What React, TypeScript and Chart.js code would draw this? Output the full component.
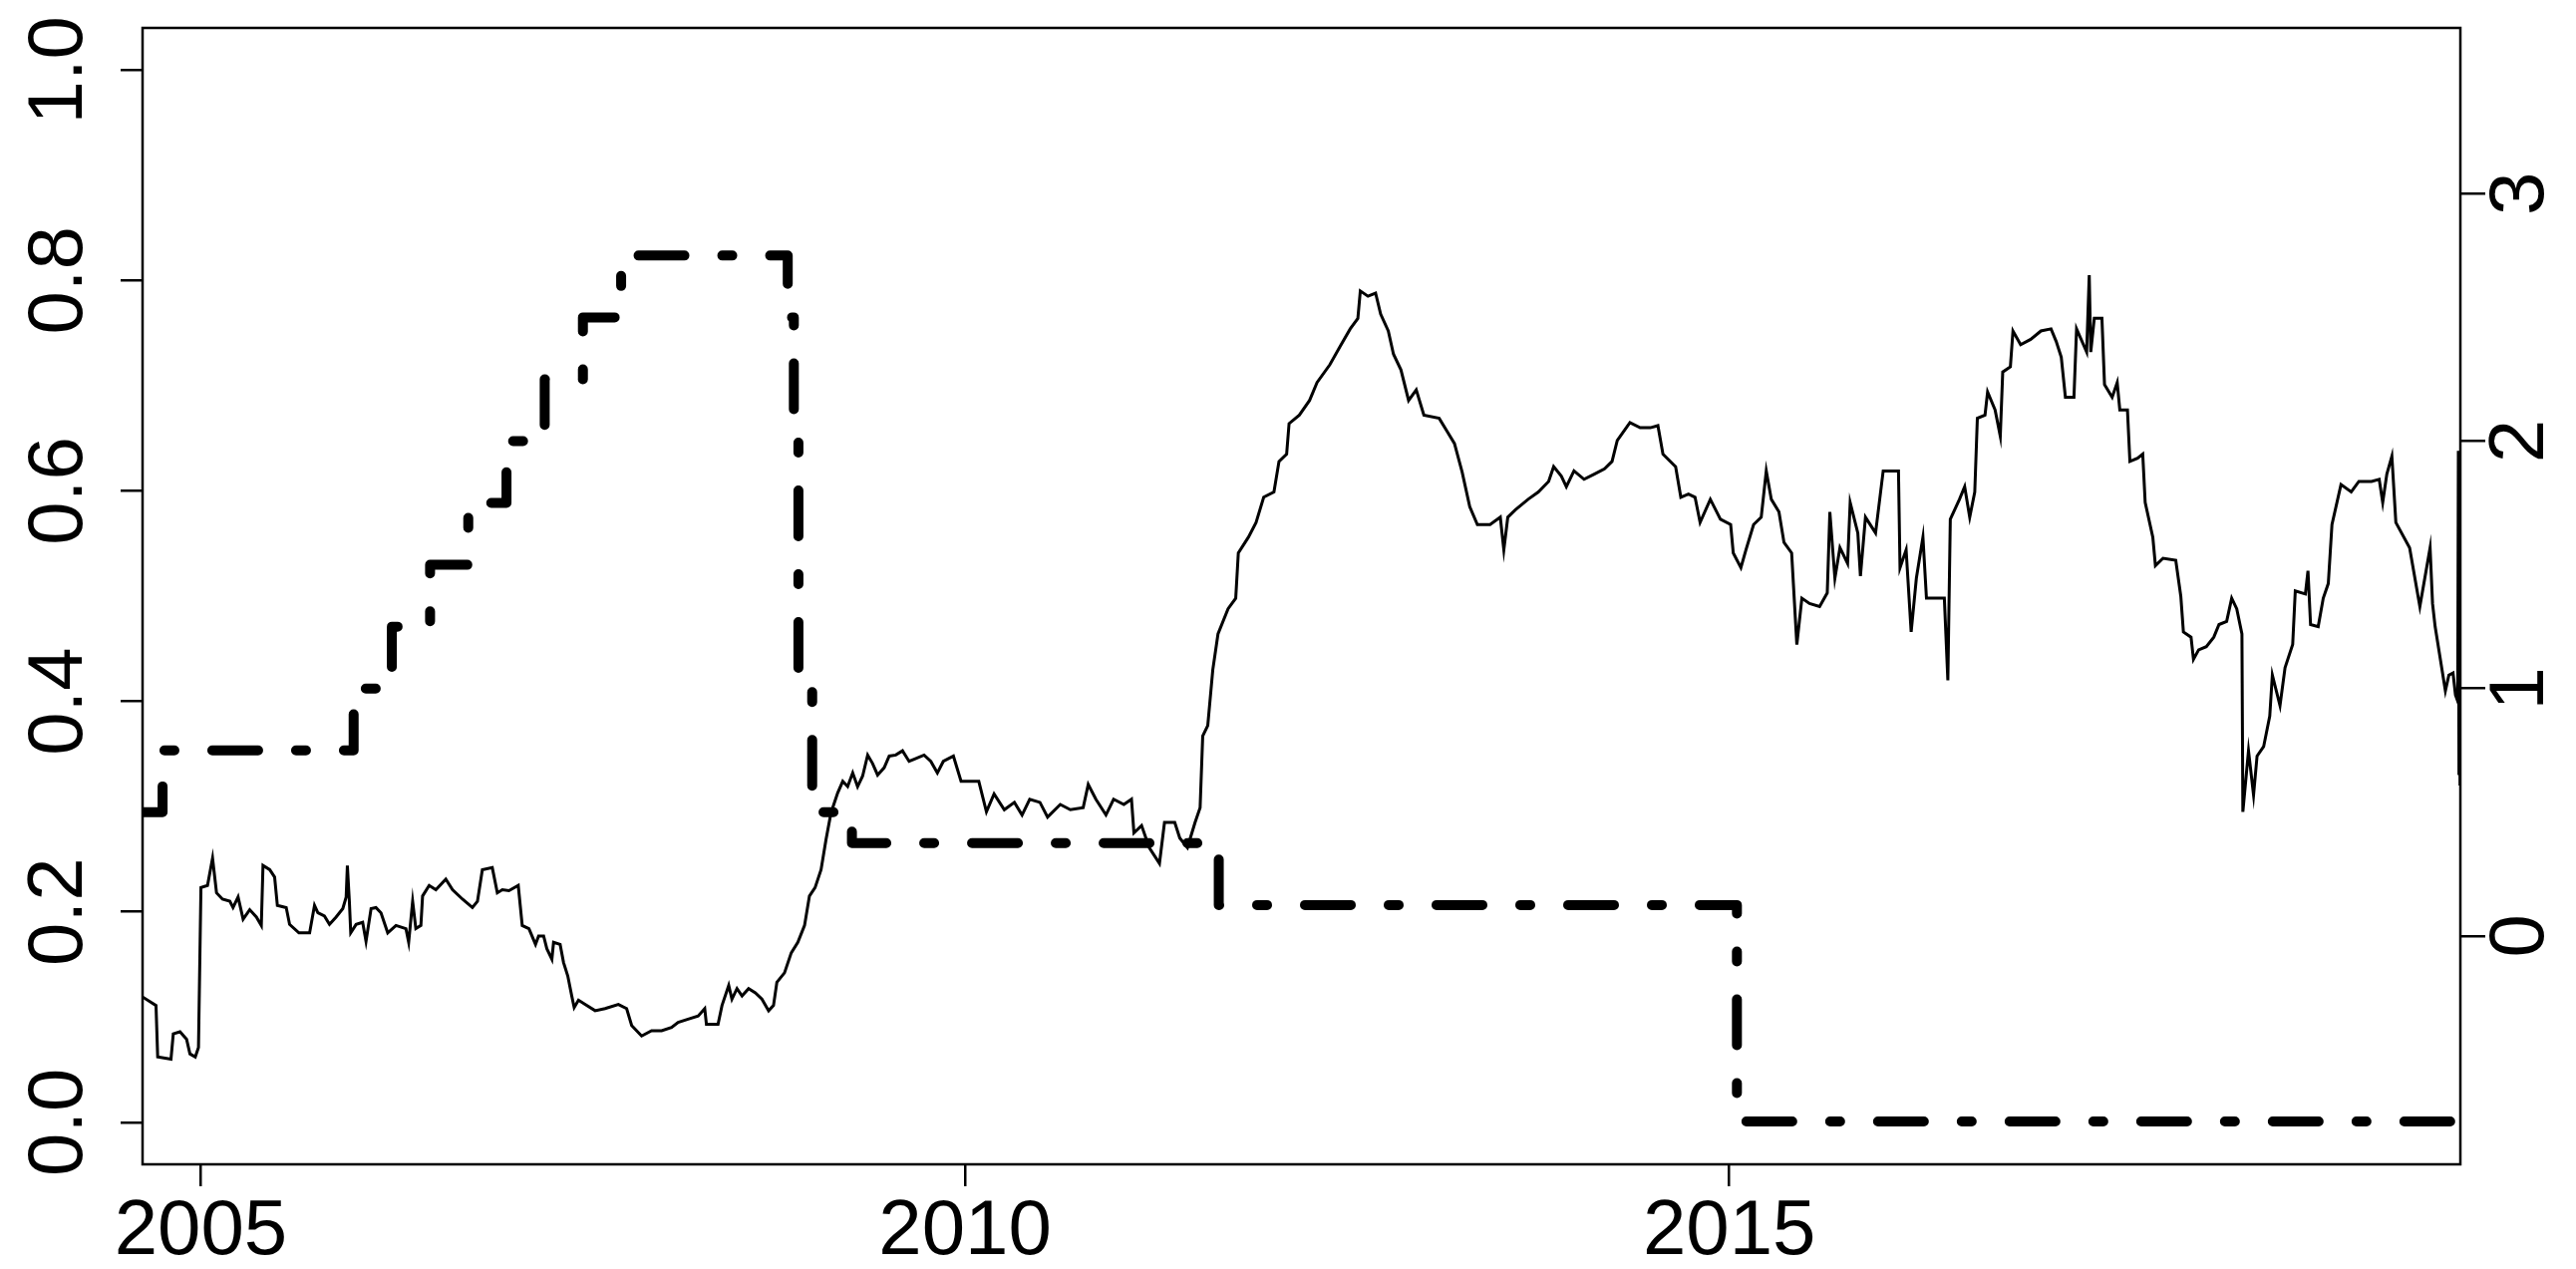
import React, { useEffect, useRef } from 'react';
import { Chart, registerables } from 'chart.js';

Chart.register(...registerables);

// ---------- data ----------
const xRange = [2004.619, 2019.783];
const leftRange = [-0.04, 1.04];
const rightRange = [-0.923, 3.67];

const xTicks = [2005, 2010, 2015];
const leftTicks = [0, 0.2, 0.4, 0.6, 0.8, 1.0];
const rightTicks = [0, 1, 2, 3];

// solid series (left axis): [year, value]
const solidSeries: [number, number][] = [
  [2004.620, 0.119], [2004.707, 0.111], [2004.718, 0.062], [2004.805, 0.060], [2004.820, 0.084],
  [2004.864, 0.086], [2004.907, 0.079], [2004.929, 0.065], [2004.964, 0.062], [2004.985, 0.071],
  [2005.001, 0.223], [2005.044, 0.225], [2005.077, 0.251], [2005.103, 0.218], [2005.142, 0.212],
  [2005.190, 0.210], [2005.211, 0.204], [2005.244, 0.214], [2005.277, 0.193], [2005.320, 0.202],
  [2005.364, 0.195], [2005.396, 0.187], [2005.407, 0.244], [2005.451, 0.240], [2005.483, 0.233],
  [2005.501, 0.206], [2005.559, 0.204], [2005.581, 0.188], [2005.642, 0.180], [2005.712, 0.180],
  [2005.744, 0.206], [2005.766, 0.199], [2005.809, 0.196], [2005.842, 0.188], [2005.885, 0.195],
  [2005.929, 0.203], [2005.951, 0.214], [2005.959, 0.244], [2005.972, 0.210], [2005.981, 0.180],
  [2006.016, 0.188], [2006.059, 0.190], [2006.081, 0.172], [2006.114, 0.203], [2006.146, 0.204],
  [2006.179, 0.199], [2006.223, 0.180], [2006.277, 0.187], [2006.342, 0.184], [2006.360, 0.171],
  [2006.386, 0.210], [2006.407, 0.184], [2006.440, 0.187], [2006.451, 0.215], [2006.494, 0.225],
  [2006.538, 0.221], [2006.603, 0.231], [2006.647, 0.221], [2006.712, 0.212], [2006.777, 0.204],
  [2006.810, 0.210], [2006.842, 0.240], [2006.907, 0.242], [2006.940, 0.218], [2006.973, 0.221],
  [2007.016, 0.220], [2007.077, 0.225], [2007.103, 0.187], [2007.147, 0.184], [2007.190, 0.169],
  [2007.210, 0.177], [2007.243, 0.177], [2007.264, 0.165], [2007.297, 0.155], [2007.308, 0.171],
  [2007.351, 0.169], [2007.373, 0.152], [2007.401, 0.139], [2007.427, 0.120], [2007.443, 0.109],
  [2007.471, 0.116], [2007.514, 0.112], [2007.580, 0.106], [2007.645, 0.108], [2007.732, 0.112],
  [2007.786, 0.108], [2007.819, 0.092], [2007.884, 0.082], [2007.949, 0.087], [2008.015, 0.087],
  [2008.080, 0.090], [2008.123, 0.095], [2008.188, 0.098], [2008.254, 0.101], [2008.297, 0.108],
  [2008.308, 0.093], [2008.384, 0.093], [2008.410, 0.111], [2008.454, 0.130], [2008.475, 0.117],
  [2008.508, 0.127], [2008.541, 0.120], [2008.584, 0.127], [2008.628, 0.123], [2008.671, 0.117],
  [2008.715, 0.106], [2008.747, 0.111], [2008.769, 0.133], [2008.819, 0.142], [2008.863, 0.161],
  [2008.906, 0.171], [2008.950, 0.187], [2008.982, 0.215], [2009.019, 0.223], [2009.058, 0.240],
  [2009.091, 0.269], [2009.123, 0.294], [2009.167, 0.313], [2009.200, 0.324], [2009.232, 0.319],
  [2009.265, 0.332], [2009.297, 0.319], [2009.330, 0.329], [2009.363, 0.349], [2009.395, 0.341],
  [2009.428, 0.330], [2009.471, 0.337], [2009.504, 0.348], [2009.547, 0.349], [2009.591, 0.353],
  [2009.634, 0.343], [2009.667, 0.345], [2009.732, 0.349], [2009.776, 0.343], [2009.819, 0.332],
  [2009.858, 0.343], [2009.924, 0.348], [2009.974, 0.324], [2010.090, 0.324], [2010.140, 0.295],
  [2010.190, 0.312], [2010.257, 0.297], [2010.323, 0.304], [2010.373, 0.292], [2010.423, 0.307],
  [2010.490, 0.304], [2010.540, 0.290], [2010.623, 0.302], [2010.689, 0.297], [2010.773, 0.299],
  [2010.806, 0.321], [2010.856, 0.307], [2010.922, 0.292], [2010.972, 0.307], [2011.039, 0.302],
  [2011.089, 0.307], [2011.105, 0.275], [2011.155, 0.282], [2011.205, 0.261], [2011.272, 0.246],
  [2011.305, 0.285], [2011.372, 0.285], [2011.405, 0.270], [2011.455, 0.261], [2011.505, 0.285],
  [2011.538, 0.299], [2011.555, 0.367], [2011.588, 0.377], [2011.621, 0.430], [2011.655, 0.464],
  [2011.721, 0.488], [2011.771, 0.498], [2011.788, 0.541], [2011.854, 0.556], [2011.904, 0.570],
  [2011.954, 0.594], [2012.021, 0.599], [2012.054, 0.628], [2012.104, 0.635], [2012.120, 0.664],
  [2012.187, 0.672], [2012.254, 0.686], [2012.303, 0.703], [2012.387, 0.720], [2012.453, 0.737],
  [2012.520, 0.754], [2012.570, 0.764], [2012.586, 0.790], [2012.636, 0.785], [2012.686, 0.788],
  [2012.719, 0.768], [2012.769, 0.752], [2012.803, 0.730], [2012.852, 0.715], [2012.902, 0.686],
  [2012.952, 0.696], [2013.002, 0.672], [2013.102, 0.669], [2013.152, 0.657], [2013.202, 0.645],
  [2013.252, 0.618], [2013.302, 0.585], [2013.352, 0.568], [2013.435, 0.568], [2013.502, 0.575],
  [2013.525, 0.544], [2013.551, 0.575], [2013.601, 0.582], [2013.684, 0.592], [2013.751, 0.599],
  [2013.818, 0.609], [2013.851, 0.623], [2013.901, 0.614], [2013.934, 0.604], [2013.984, 0.619],
  [2014.050, 0.611], [2014.117, 0.616], [2014.184, 0.621], [2014.233, 0.628], [2014.267, 0.648],
  [2014.350, 0.665], [2014.417, 0.660], [2014.483, 0.660], [2014.533, 0.662], [2014.566, 0.635],
  [2014.649, 0.623], [2014.683, 0.594], [2014.733, 0.597], [2014.776, 0.594], [2014.809, 0.570],
  [2014.876, 0.592], [2014.942, 0.573], [2015.009, 0.568], [2015.026, 0.541], [2015.076, 0.527],
  [2015.109, 0.544], [2015.159, 0.568], [2015.209, 0.575], [2015.242, 0.619], [2015.275, 0.592],
  [2015.325, 0.580], [2015.358, 0.551], [2015.408, 0.541], [2015.442, 0.454], [2015.475, 0.498],
  [2015.525, 0.493], [2015.591, 0.490], [2015.641, 0.503], [2015.658, 0.580], [2015.691, 0.517],
  [2015.724, 0.546], [2015.774, 0.531], [2015.791, 0.589], [2015.841, 0.560], [2015.858, 0.519],
  [2015.891, 0.575], [2015.957, 0.560], [2016.007, 0.619], [2016.107, 0.619], [2016.117, 0.527],
  [2016.157, 0.544], [2016.190, 0.466], [2016.224, 0.517], [2016.267, 0.556], [2016.290, 0.498],
  [2016.407, 0.498], [2016.430, 0.420], [2016.446, 0.573], [2016.506, 0.592], [2016.540, 0.604],
  [2016.573, 0.575], [2016.606, 0.599], [2016.623, 0.669], [2016.673, 0.672], [2016.690, 0.694],
  [2016.739, 0.677], [2016.773, 0.652], [2016.789, 0.713], [2016.839, 0.718], [2016.856, 0.752],
  [2016.906, 0.739], [2016.972, 0.744], [2017.039, 0.752], [2017.105, 0.754], [2017.139, 0.742],
  [2017.172, 0.727], [2017.199, 0.689], [2017.255, 0.689], [2017.272, 0.754], [2017.338, 0.732],
  [2017.355, 0.805], [2017.365, 0.732], [2017.388, 0.764], [2017.438, 0.764], [2017.455, 0.701],
  [2017.505, 0.689], [2017.538, 0.703], [2017.555, 0.677], [2017.605, 0.677], [2017.621, 0.628],
  [2017.671, 0.631], [2017.705, 0.635], [2017.721, 0.589], [2017.771, 0.556], [2017.788, 0.529],
  [2017.838, 0.536], [2017.921, 0.534], [2017.954, 0.500], [2017.971, 0.466], [2018.021, 0.461],
  [2018.037, 0.440], [2018.071, 0.449], [2018.121, 0.452], [2018.170, 0.461], [2018.204, 0.473],
  [2018.254, 0.476], [2018.287, 0.498], [2018.320, 0.488], [2018.354, 0.464], [2018.360, 0.295],
  [2018.397, 0.353], [2018.430, 0.311], [2018.453, 0.348], [2018.496, 0.357], [2018.536, 0.386],
  [2018.553, 0.425], [2018.603, 0.396], [2018.636, 0.432], [2018.686, 0.454], [2018.703, 0.505],
  [2018.769, 0.502], [2018.786, 0.524], [2018.803, 0.473], [2018.853, 0.471], [2018.886, 0.498],
  [2018.919, 0.512], [2018.943, 0.568], [2019.002, 0.606], [2019.069, 0.599], [2019.119, 0.609],
  [2019.202, 0.609], [2019.252, 0.611], [2019.275, 0.589], [2019.302, 0.616], [2019.335, 0.633],
  [2019.361, 0.570], [2019.451, 0.546], [2019.518, 0.490], [2019.585, 0.546], [2019.601, 0.493],
  [2019.618, 0.471], [2019.685, 0.410], [2019.708, 0.425], [2019.735, 0.427], [2019.751, 0.406],
  [2019.766, 0.400], [2019.770, 0.638], [2019.774, 0.330], [2019.778, 0.450], [2019.781, 0.320],
];

// dashed series (right axis): policy-rate steps [year the level starts, level]
const rateSteps: [number, number][] = [
  [2004.619, 0.5], [2004.75, 0.75], [2006.0, 1.0], [2006.25, 1.25], [2006.5, 1.5],
  [2006.75, 1.75], [2007.0, 2.0], [2007.25, 2.25], [2007.5, 2.5], [2007.75, 2.75],
  [2008.84, 2.5], [2008.88, 2.0], [2008.91, 1.0], [2009.0, 0.5], [2009.26, 0.375],
  [2011.66, 0.125], [2015.05, -0.75],
];
const rateEnd = 2019.783;

// ---------- styling ----------
const FONT = 'Liberation Sans';
const black = '#000000';

export default function App() {
  const ref = useRef<HTMLCanvasElement | null>(null);

  useEffect(() => {
    if (!ref.current) return;
    const solidData = solidSeries.map(([x, y]) => ({ x, y }));
    const rateData: { x: number; y: number }[] = [];
    rateSteps.forEach(([x, v], i) => {
      if (i > 0) rateData.push({ x, y: rateSteps[i - 1][1] });
      rateData.push({ x, y: v });
    });
    rateData.push({ x: rateEnd, y: rateSteps[rateSteps.length - 1][1] });

    const boxPlugin = {
      id: 'box',
      afterDraw(chart: any) {
        const { ctx, chartArea: a } = chart;
        ctx.save();
        ctx.strokeStyle = black;
        ctx.lineWidth = 2.5;
        ctx.strokeRect(a.left, a.top, a.right - a.left, a.bottom - a.top);
        ctx.restore();
      },
    };

    const tickFont = { family: FONT, size: 78 };
    const gridBase = {
      drawOnChartArea: false,
      drawTicks: true,
      tickWidth: 2.5,
      tickColor: black,
      lineWidth: 2.5,
      color: black,
    };

    const chart = new Chart(ref.current, {
      type: 'line',
      data: {
        datasets: [
          {
            data: rateData,
            yAxisID: 'y1',
            borderColor: black,
            borderWidth: 10,
            borderDash: [46, 38, 10, 38],
            borderCapStyle: 'round',
            borderJoinStyle: 'round',
            pointRadius: 0,
            tension: 0,
            fill: false,
          },
          {
            data: solidData,
            yAxisID: 'y',
            borderColor: black,
            borderWidth: 3,
            pointRadius: 0,
            tension: 0,
            fill: false,
          },
        ],
      },
      options: {
        responsive: false,
        animation: false,
        devicePixelRatio: 1,
        layout: { padding: { top: 28, left: 0, right: 0, bottom: 0 }, autoPadding: false },
        plugins: { legend: { display: false }, tooltip: { enabled: false } },
        events: [],
        scales: {
          x: {
            type: 'linear',
            position: 'bottom',
            min: xRange[0],
            max: xRange[1],
            afterBuildTicks: (s: any) => {
              s.ticks = xTicks.map((v) => ({ value: v }));
            },
            afterFit: (s: any) => {
              s.height = 105;
              s.paddingLeft = 0;
              s.paddingRight = 0;
            },
            ticks: {
              callback: (v: any) => String(v),
              font: tickFont,
              color: black,
              padding: 0,
              minRotation: 0,
              maxRotation: 0,
              autoSkip: false,
            },
            grid: { ...gridBase, tickLength: 22 },
            border: { display: false },
          },
          y: {
            type: 'linear',
            position: 'left',
            min: leftRange[0],
            max: leftRange[1],
            afterBuildTicks: (s: any) => {
              s.ticks = leftTicks.map((v) => ({ value: v }));
            },
            afterFit: (s: any) => {
              s.width = 143;
              s.paddingTop = 0;
              s.paddingBottom = 0;
            },
            ticks: {
              callback: (v: any) => Number(v).toFixed(1),
              font: tickFont,
              color: black,
              padding: 6,
              minRotation: 90,
              maxRotation: 90,
              crossAlign: 'center',
            },
            grid: { ...gridBase, tickLength: 22 },
            border: { display: false },
          },
          y1: {
            type: 'linear',
            position: 'right',
            min: rightRange[0],
            max: rightRange[1],
            afterBuildTicks: (s: any) => {
              s.ticks = rightTicks.map((v) => ({ value: v }));
            },
            afterFit: (s: any) => {
              s.width = 116;
              s.paddingTop = 0;
              s.paddingBottom = 0;
            },
            ticks: {
              callback: (v: any) => String(v),
              font: tickFont,
              color: black,
              padding: 15,
              minRotation: 90,
              maxRotation: 90,
              crossAlign: 'center',
            },
            grid: { ...gridBase, tickLength: 25 },
            border: { display: false },
          },
        },
      },
      plugins: [boxPlugin],
    } as any);

    return () => chart.destroy();
  }, []);

  return (
    <div style={{ position: 'absolute', left: 0, top: 0, width: 2584, height: 1273, background: '#ffffff' }}>
      <canvas ref={ref} width={2584} height={1273} style={{ display: 'block' }} />
    </div>
  );
}
